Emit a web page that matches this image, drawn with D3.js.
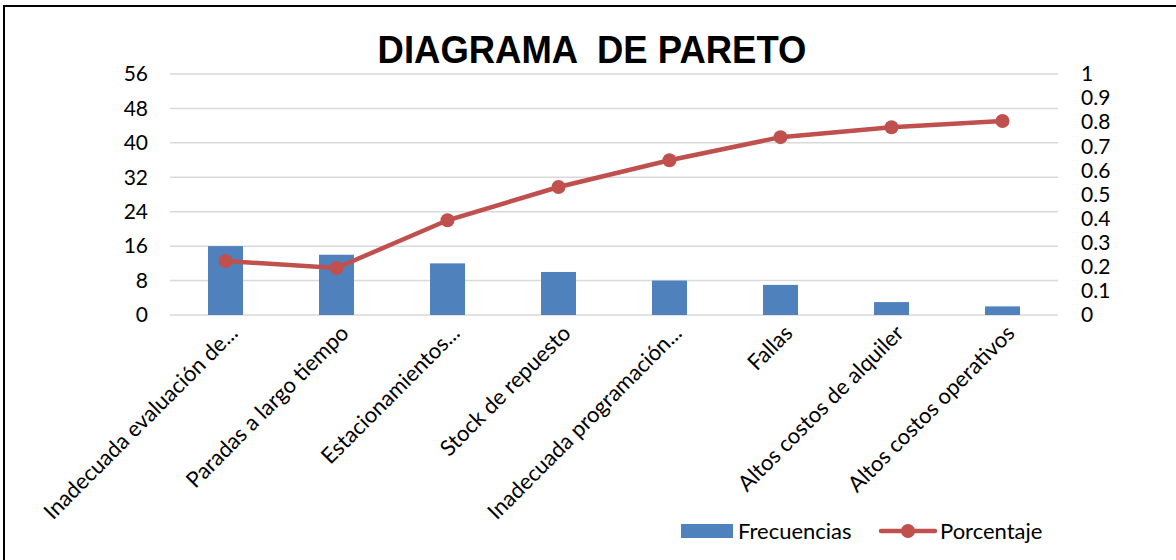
<!DOCTYPE html>
<html>
<head>
<meta charset="utf-8">
<script src="https://cdn.jsdelivr.net/npm/d3@7"></script>
<style>
  body { margin: 0; background: #fff; }
  svg { display: block; }
</style>
</head>
<body>
<div id="chart"></div>
<script>
const categorias = ["Inadecuada evaluación de...", "Paradas a largo tiempo", "Estacionamientos...",
  "Stock de repuesto", "Inadecuada programación...", "Fallas", "Altos costos de alquiler",
  "Altos costos operativos"];
const frecuencias = [16, 14, 12, 10, 8, 7, 3, 2];
const porcentaje = [0.224, 0.195, 0.393, 0.531, 0.642, 0.738, 0.779, 0.805];
const ticksIzq = [0, 8, 16, 24, 32, 40, 48, 56];
const ticksDer = [0, 0.1, 0.2, 0.3, 0.4, 0.5, 0.6, 0.7, 0.8, 0.9, 1];

const width = 1176, height = 560;
const margin = {top: 74, right: 118, bottom: 245, left: 170};
const labelFont = "Lato, 'Open Sans', sans-serif";

const svg = d3.select("#chart").append("svg")
  .attr("width", width).attr("height", height);

// marco
svg.append("rect")
  .attr("x", 4).attr("y", 6)
  .attr("width", width + 10).attr("height", height + 10)
  .attr("fill", "none").attr("stroke", "#000").attr("stroke-width", 2);

const x = d3.scaleBand()
  .domain(d3.range(categorias.length))
  .range([margin.left, width - margin.right])
  .paddingInner(0.685).paddingOuter(0.3425);

const y = d3.scaleLinear().domain([0, 56]).range([height - margin.bottom, margin.top]);
const y2 = d3.scaleLinear().domain([0, 1]).range([height - margin.bottom, margin.top]);

// lineas de cuadricula
svg.append("g")
  .selectAll("line")
  .data(ticksIzq)
  .join("line")
  .attr("x1", margin.left).attr("x2", width - margin.right)
  .attr("y1", d => y(d)).attr("y2", d => y(d))
  .attr("stroke", "#d9d9d9").attr("stroke-width", 1.5);

// barras
svg.append("g")
  .selectAll("rect")
  .data(frecuencias)
  .join("rect")
  .attr("x", (d, i) => x(i))
  .attr("y", d => y(d))
  .attr("width", x.bandwidth())
  .attr("height", d => y(0) - y(d))
  .attr("fill", "#4f81bd");

// eje izquierdo
const gIzq = svg.append("g")
  .attr("transform", `translate(${margin.left - 22},0)`)
  .call(d3.axisLeft(y).tickValues(ticksIzq).tickSize(0).tickPadding(0));
gIzq.select(".domain").remove();
gIzq.selectAll("text").attr("font-size", "21px").attr("font-family", labelFont).attr("fill", "#000");

// eje derecho
const gDer = svg.append("g")
  .attr("transform", `translate(${width - margin.right + 23},0)`)
  .call(d3.axisRight(y2).tickValues(ticksDer).tickSize(0).tickPadding(0).tickFormat(d3.format("")));
gDer.select(".domain").remove();
gDer.selectAll("text").attr("font-size", "21px").attr("font-family", labelFont).attr("fill", "#000");

// eje x
const gX = svg.append("g")
  .attr("transform", `translate(0,${height - margin.bottom})`)
  .call(d3.axisBottom(x).tickSize(0).tickFormat(i => categorias[i]));
gX.select(".domain").remove();
gX.selectAll("text")
  .attr("font-size", "22px").attr("font-family", labelFont).attr("fill", "#000")
  .attr("text-anchor", "end")
  .attr("dy", "0.35em")
  .attr("transform", "translate(6,12) rotate(-45)");

// linea de porcentaje
const cx = i => x(i) + x.bandwidth() / 2;
svg.append("path")
  .datum(porcentaje)
  .attr("fill", "none")
  .attr("stroke", "#c0504d")
  .attr("stroke-width", 4.5)
  .attr("d", d3.line().x((d, i) => cx(i)).y(d => y2(d)));

svg.append("g")
  .selectAll("circle")
  .data(porcentaje)
  .join("circle")
  .attr("cx", (d, i) => cx(i))
  .attr("cy", d => y2(d))
  .attr("r", 7)
  .attr("fill", "#c0504d");

// titulo
svg.append("text")
  .attr("transform", "translate(592,63) scale(0.96,1.04)")
  .attr("text-anchor", "middle")
  .attr("font-family", "'Liberation Sans', Arial, sans-serif")
  .attr("font-weight", "bold")
  .attr("font-size", "38px")
  .style("white-space", "pre")
  .text("DIAGRAMA  DE PARETO");

// leyenda
const leg = svg.append("g").attr("font-family", labelFont).attr("font-size", "22px");
leg.append("rect").attr("x", 681).attr("y", 524).attr("width", 52).attr("height", 14).attr("fill", "#4f81bd");
leg.append("text").attr("x", 738).attr("y", 539).text("Frecuencias");
leg.append("line").attr("x1", 881).attr("x2", 935).attr("y1", 531).attr("y2", 531)
  .attr("stroke", "#c0504d").attr("stroke-width", 4.5).attr("stroke-linecap", "round");
leg.append("circle").attr("cx", 908).attr("cy", 531).attr("r", 7).attr("fill", "#c0504d");
leg.append("text").attr("x", 940).attr("y", 539).text("Porcentaje");
</script>
</body>
</html>
